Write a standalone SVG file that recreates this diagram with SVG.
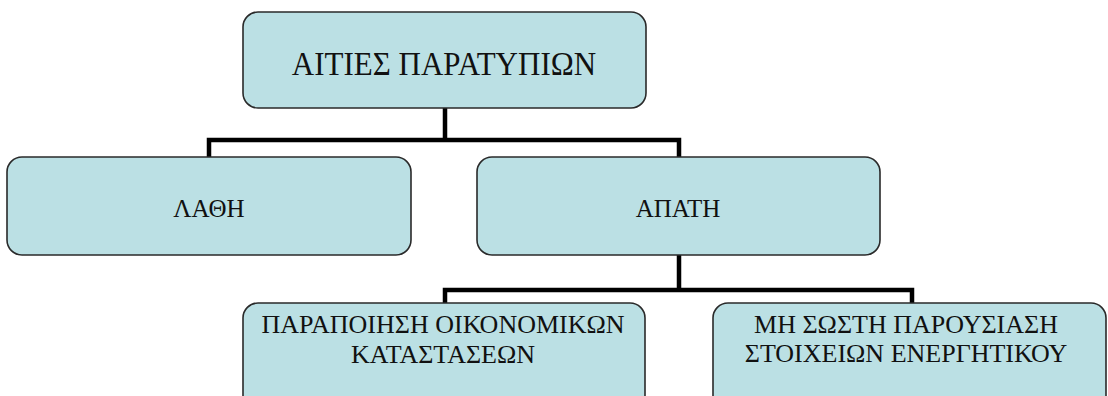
<svg xmlns="http://www.w3.org/2000/svg" width="1108" height="396" viewBox="0 0 1108 396">
<style>
.box{fill:#bbe0e4;stroke:#2a2a2a;stroke-width:1.6}
.t{font-family:"Liberation Serif","Times New Roman",serif;fill:#111;text-anchor:middle}
.conn{fill:none;stroke:#000;stroke-width:4.5}
</style>
<rect width="1108" height="396" fill="#fff"/>
<g id="connectors">
<path class="conn" d="M445 108 V140 M209 157 V140 H679 V157"/>
<path class="conn" d="M679 255 V290 M445 303 V290 H912 V303"/>
</g>
<g id="n-root">
<rect class="box" x="243" y="12" width="403" height="96" rx="15"/>
<text class="t" x="444" y="75" font-size="31" transform="translate(0,75) scale(1,1.1) translate(0,-75)">ΑΙΤΙΕΣ ΠΑΡΑΤΥΠΙΩΝ</text>
</g>
<g id="n-lathi">
<rect class="box" x="7" y="157" width="404" height="98" rx="15"/>
<text class="t" x="209" y="217" font-size="25">ΛΑΘΗ</text>
</g>
<g id="n-apati">
<rect class="box" x="477" y="157" width="403" height="98" rx="15"/>
<text class="t" x="678" y="217" font-size="25">ΑΠΑΤΗ</text>
</g>
<g id="n-parapoiisi">
<rect class="box" x="243" y="303" width="402" height="110" rx="15"/>
<text class="t" x="443" y="333" font-size="26">ΠΑΡΑΠΟΙΗΣΗ ΟΙΚΟΝΟΜΙΚΩΝ</text>
<text class="t" x="443" y="363" font-size="26">ΚΑΤΑΣΤΑΣΕΩΝ</text>
</g>
<g id="n-mi-sosti">
<rect class="box" x="713" y="303" width="393" height="110" rx="15"/>
<text class="t" x="906" y="333" font-size="26">ΜΗ ΣΩΣΤΗ ΠΑΡΟΥΣΙΑΣΗ</text>
<text class="t" x="906" y="362" font-size="26">ΣΤΟΙΧΕΙΩΝ ΕΝΕΡΓΗΤΙΚΟΥ</text>
</g>
</svg>
